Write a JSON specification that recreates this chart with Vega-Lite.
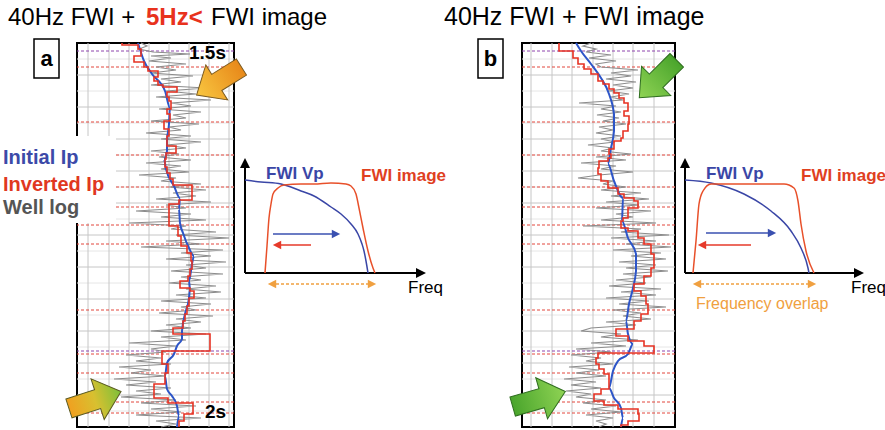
{
"$schema": "https://vega.github.io/schema/vega-lite/v6.json",
"background": "white",
"padding": 0,
"spacing": 0,
"bounds": "flush",
"config": {"view": {"stroke": null}, "font": "Liberation Sans"},
"datasets": {
"grayA": [{"s":0,"ip":64},{"s":3,"ip":70},{"s":6,"ip":62},{"s":9,"ip":76},{"s":11,"ip":113},{"s":13,"ip":74},{"s":15,"ip":94},{"s":18,"ip":72},{"s":21,"ip":109},{"s":24,"ip":79},{"s":27,"ip":99},{"s":30,"ip":74},{"s":33,"ip":116},{"s":36,"ip":84},{"s":39,"ip":104},{"s":42,"ip":74},{"s":45,"ip":129},{"s":48,"ip":89},{"s":51,"ip":119},{"s":54,"ip":79},{"s":57,"ip":134},{"s":60,"ip":94},{"s":63,"ip":114},{"s":66,"ip":82},{"s":69,"ip":124},{"s":72,"ip":96},{"s":75,"ip":109},{"s":78,"ip":74},{"s":81,"ip":122},{"s":84,"ip":92},{"s":87,"ip":104},{"s":90,"ip":69},{"s":93,"ip":114},{"s":96,"ip":84},{"s":99,"ip":124},{"s":102,"ip":89},{"s":105,"ip":109},{"s":108,"ip":74},{"s":111,"ip":102},{"s":114,"ip":82},{"s":117,"ip":114},{"s":120,"ip":69},{"s":123,"ip":104},{"s":126,"ip":84},{"s":129,"ip":112},{"s":132,"ip":62},{"s":135,"ip":99},{"s":138,"ip":84},{"s":141,"ip":124},{"s":144,"ip":92},{"s":147,"ip":129},{"s":150,"ip":96},{"s":153,"ip":119},{"s":156,"ip":79},{"s":159,"ip":134},{"s":162,"ip":89},{"s":165,"ip":109},{"s":168,"ip":59},{"s":171,"ip":114},{"s":174,"ip":84},{"s":177,"ip":129},{"s":180,"ip":52},{"s":183,"ip":109},{"s":186,"ip":94},{"s":189,"ip":139},{"s":192,"ip":99},{"s":195,"ip":152},{"s":198,"ip":89},{"s":201,"ip":124},{"s":204,"ip":64},{"s":207,"ip":146},{"s":210,"ip":104},{"s":213,"ip":134},{"s":216,"ip":89},{"s":219,"ip":149},{"s":222,"ip":109},{"s":225,"ip":129},{"s":228,"ip":94},{"s":231,"ip":146},{"s":234,"ip":104},{"s":237,"ip":124},{"s":240,"ip":92},{"s":243,"ip":139},{"s":246,"ip":109},{"s":249,"ip":144},{"s":252,"ip":99},{"s":255,"ip":129},{"s":258,"ip":84},{"s":261,"ip":134},{"s":264,"ip":104},{"s":267,"ip":119},{"s":270,"ip":82},{"s":273,"ip":136},{"s":276,"ip":99},{"s":279,"ip":124},{"s":282,"ip":89},{"s":285,"ip":114},{"s":288,"ip":74},{"s":291,"ip":129},{"s":294,"ip":84},{"s":297,"ip":109},{"s":300,"ip":52},{"s":303,"ip":99},{"s":306,"ip":74},{"s":309,"ip":89},{"s":312,"ip":49},{"s":315,"ip":84},{"s":318,"ip":59},{"s":321,"ip":94},{"s":324,"ip":42},{"s":327,"ip":74},{"s":330,"ip":54},{"s":333,"ip":89},{"s":336,"ip":37},{"s":339,"ip":79},{"s":342,"ip":49},{"s":345,"ip":94},{"s":348,"ip":59},{"s":351,"ip":84},{"s":354,"ip":44},{"s":357,"ip":99},{"s":360,"ip":64},{"s":363,"ip":119},{"s":366,"ip":74},{"s":369,"ip":104},{"s":372,"ip":59},{"s":375,"ip":124},{"s":378,"ip":79},{"s":381,"ip":99},{"s":384,"ip":84}],
"blueA": [{"s":0,"ip":61},{"s":18,"ip":67},{"s":31,"ip":75},{"s":48,"ip":88},{"s":65,"ip":93},{"s":81,"ip":92},{"s":98,"ip":90},{"s":108,"ip":90},{"s":116,"ip":87},{"s":126,"ip":89},{"s":143,"ip":97},{"s":155,"ip":103},{"s":166,"ip":102},{"s":180,"ip":103},{"s":190,"ip":106},{"s":205,"ip":112},{"s":213,"ip":117},{"s":221,"ip":115},{"s":238,"ip":112},{"s":246,"ip":113},{"s":255,"ip":112},{"s":271,"ip":108},{"s":288,"ip":105},{"s":296,"ip":105},{"s":303,"ip":100},{"s":311,"ip":97},{"s":320,"ip":90},{"s":333,"ip":88},{"s":346,"ip":90},{"s":353,"ip":95},{"s":363,"ip":100},{"s":373,"ip":102},{"s":384,"ip":100}],
"redA": [{"s":0,"ip":45},{"s":2,"ip":61},{"s":6,"ip":64},{"s":13,"ip":57},{"s":19,"ip":67},{"s":24,"ip":71},{"s":28,"ip":81},{"s":34,"ip":77},{"s":38,"ip":81},{"s":42,"ip":86},{"s":44,"ip":100},{"s":49,"ip":90},{"s":54,"ip":92},{"s":58,"ip":94},{"s":66,"ip":90},{"s":71,"ip":93},{"s":78,"ip":87},{"s":86,"ip":92},{"s":93,"ip":90},{"s":103,"ip":99},{"s":110,"ip":89},{"s":116,"ip":88},{"s":124,"ip":90},{"s":130,"ip":93},{"s":136,"ip":96},{"s":142,"ip":115},{"s":157,"ip":102},{"s":161,"ip":92},{"s":183,"ip":101},{"s":193,"ip":104},{"s":203,"ip":110},{"s":210,"ip":114},{"s":218,"ip":115},{"s":226,"ip":113},{"s":233,"ip":111},{"s":238,"ip":103},{"s":245,"ip":113},{"s":248,"ip":117},{"s":255,"ip":112},{"s":263,"ip":110},{"s":271,"ip":108},{"s":278,"ip":106},{"s":285,"ip":96},{"s":291,"ip":133},{"s":308,"ip":85},{"s":321,"ip":91},{"s":330,"ip":88},{"s":341,"ip":77},{"s":355,"ip":91},{"s":360,"ip":116},{"s":371,"ip":107},{"s":378,"ip":102},{"s":384,"ip":102}],
"grayB": [{"s":0,"ip":69},{"s":3,"ip":61},{"s":6,"ip":74},{"s":9,"ip":64},{"s":12,"ip":89},{"s":15,"ip":67},{"s":18,"ip":94},{"s":21,"ip":74},{"s":24,"ip":79},{"s":27,"ip":116},{"s":30,"ip":89},{"s":33,"ip":109},{"s":36,"ip":84},{"s":39,"ip":114},{"s":42,"ip":91},{"s":45,"ip":111},{"s":48,"ip":86},{"s":51,"ip":107},{"s":54,"ip":89},{"s":57,"ip":101},{"s":60,"ip":57},{"s":63,"ip":94},{"s":66,"ip":79},{"s":69,"ip":99},{"s":72,"ip":75},{"s":75,"ip":97},{"s":78,"ip":81},{"s":81,"ip":104},{"s":84,"ip":77},{"s":87,"ip":91},{"s":90,"ip":74},{"s":93,"ip":99},{"s":96,"ip":79},{"s":99,"ip":93},{"s":102,"ip":66},{"s":105,"ip":91},{"s":108,"ip":79},{"s":111,"ip":109},{"s":114,"ip":74},{"s":117,"ip":104},{"s":120,"ip":59},{"s":123,"ip":94},{"s":126,"ip":79},{"s":129,"ip":111},{"s":132,"ip":77},{"s":135,"ip":56},{"s":138,"ip":91},{"s":141,"ip":81},{"s":144,"ip":104},{"s":147,"ip":79},{"s":150,"ip":119},{"s":153,"ip":89},{"s":156,"ip":127},{"s":159,"ip":84},{"s":162,"ip":117},{"s":165,"ip":74},{"s":168,"ip":129},{"s":171,"ip":94},{"s":174,"ip":111},{"s":177,"ip":79},{"s":180,"ip":134},{"s":183,"ip":61},{"s":186,"ip":119},{"s":189,"ip":99},{"s":192,"ip":147},{"s":195,"ip":89},{"s":198,"ip":134},{"s":201,"ip":104},{"s":204,"ip":149},{"s":207,"ip":91},{"s":210,"ip":139},{"s":213,"ip":109},{"s":216,"ip":144},{"s":219,"ip":97},{"s":222,"ip":134},{"s":225,"ip":104},{"s":228,"ip":146},{"s":231,"ip":101},{"s":234,"ip":129},{"s":237,"ip":94},{"s":240,"ip":124},{"s":243,"ip":87},{"s":246,"ip":139},{"s":249,"ip":99},{"s":252,"ip":134},{"s":255,"ip":84},{"s":258,"ip":127},{"s":261,"ip":97},{"s":264,"ip":144},{"s":267,"ip":91},{"s":270,"ip":119},{"s":273,"ip":101},{"s":276,"ip":129},{"s":279,"ip":84},{"s":282,"ip":114},{"s":285,"ip":69},{"s":288,"ip":59},{"s":291,"ip":99},{"s":294,"ip":79},{"s":297,"ip":116},{"s":300,"ip":69},{"s":303,"ip":104},{"s":306,"ip":54},{"s":309,"ip":89},{"s":312,"ip":49},{"s":315,"ip":79},{"s":318,"ip":64},{"s":321,"ip":91},{"s":324,"ip":47},{"s":327,"ip":77},{"s":330,"ip":54},{"s":333,"ip":84},{"s":336,"ip":42},{"s":339,"ip":74},{"s":342,"ip":49},{"s":345,"ip":79},{"s":348,"ip":44},{"s":351,"ip":69},{"s":354,"ip":54},{"s":357,"ip":84},{"s":360,"ip":61},{"s":363,"ip":94},{"s":366,"ip":69},{"s":369,"ip":99},{"s":372,"ip":64},{"s":375,"ip":91},{"s":378,"ip":74},{"s":381,"ip":84},{"s":384,"ip":77}],
"blueB": [{"s":0,"ip":54},{"s":8,"ip":59},{"s":21,"ip":69},{"s":35,"ip":79},{"s":51,"ip":87},{"s":71,"ip":92},{"s":88,"ip":92},{"s":105,"ip":89},{"s":121,"ip":86},{"s":138,"ip":92},{"s":155,"ip":101},{"s":178,"ip":100},{"s":195,"ip":106},{"s":211,"ip":114},{"s":228,"ip":114},{"s":245,"ip":111},{"s":261,"ip":107},{"s":278,"ip":104},{"s":291,"ip":106},{"s":301,"ip":111},{"s":311,"ip":106},{"s":318,"ip":96},{"s":328,"ip":91},{"s":345,"ip":87},{"s":355,"ip":92},{"s":365,"ip":99},{"s":375,"ip":101},{"s":384,"ip":99}],
"redB": [{"s":0,"ip":37},{"s":8,"ip":51},{"s":15,"ip":56},{"s":21,"ip":62},{"s":26,"ip":69},{"s":31,"ip":76},{"s":38,"ip":81},{"s":41,"ip":87},{"s":46,"ip":92},{"s":50,"ip":97},{"s":55,"ip":102},{"s":60,"ip":106},{"s":68,"ip":102},{"s":73,"ip":107},{"s":81,"ip":106},{"s":88,"ip":101},{"s":95,"ip":99},{"s":98,"ip":92},{"s":106,"ip":87},{"s":111,"ip":89},{"s":115,"ip":86},{"s":118,"ip":77},{"s":125,"ip":76},{"s":131,"ip":79},{"s":138,"ip":86},{"s":145,"ip":96},{"s":151,"ip":102},{"s":155,"ip":112},{"s":158,"ip":116},{"s":165,"ip":106},{"s":175,"ip":101},{"s":178,"ip":99},{"s":185,"ip":106},{"s":188,"ip":116},{"s":195,"ip":122},{"s":201,"ip":129},{"s":211,"ip":132},{"s":225,"ip":129},{"s":233,"ip":122},{"s":241,"ip":112},{"s":248,"ip":119},{"s":253,"ip":124},{"s":261,"ip":126},{"s":271,"ip":119},{"s":278,"ip":112},{"s":286,"ip":94},{"s":293,"ip":106},{"s":298,"ip":122},{"s":303,"ip":132},{"s":310,"ip":76},{"s":315,"ip":74},{"s":321,"ip":77},{"s":326,"ip":82},{"s":331,"ip":87},{"s":346,"ip":79},{"s":351,"ip":72},{"s":358,"ip":82},{"s":362,"ip":96},{"s":366,"ip":116},{"s":371,"ip":117},{"s":378,"ip":106},{"s":382,"ip":99},{"s":384,"ip":99}],
"specBlueA": [{"f":0,"a":93},{"f":16,"a":91},{"f":36,"a":89},{"f":56,"a":82},{"f":69,"a":77},{"f":86,"a":66},{"f":96,"a":59},{"f":106,"a":49},{"f":113,"a":39},{"f":117,"a":29},{"f":119,"a":22},{"f":121,"a":12},{"f":123,"a":0}],
"specRedA": [{"f":20,"a":0},{"f":22,"a":27},{"f":24,"a":55},{"f":26,"a":69},{"f":28,"a":79},{"f":33,"a":85},{"f":39,"a":88},{"f":56,"a":89},{"f":69,"a":89},{"f":86,"a":90},{"f":101,"a":89},{"f":106,"a":87},{"f":111,"a":79},{"f":114,"a":65},{"f":118,"a":45},{"f":123,"a":22},{"f":128,"a":5},{"f":130,"a":0}],
"specBlueB": [{"f":0,"a":93},{"f":26,"a":90},{"f":59,"a":79},{"f":86,"a":62},{"f":106,"a":42},{"f":116,"a":25},{"f":123,"a":5},{"f":124,"a":0}],
"specRedB": [{"f":8,"a":0},{"f":11,"a":32},{"f":14,"a":69},{"f":18,"a":82},{"f":26,"a":89},{"f":59,"a":89},{"f":76,"a":89},{"f":99,"a":89},{"f":109,"a":85},{"f":113,"a":72},{"f":116,"a":49},{"f":121,"a":22},{"f":129,"a":0}]
},
"hconcat": [
{
"width": 157, "height": 384,
"view": {"stroke": "black", "strokeWidth": 2},
"layer": [
{"data": {"values": [{"ip1": -76, "ip2": -70, "s1": -42, "s2": -41}]},
 "mark": {"type": "rect", "color": "white"},
 "encoding": {"x": {"field": "ip1", "type": "quantitative", "scale": {"domain": [0, 157], "nice": false, "zero": false}, "axis": null}, "x2": {"field": "ip2"},
  "y": {"field": "s1", "type": "quantitative", "scale": {"domain": [0, 384], "reverse": true, "nice": false, "zero": false}, "axis": null}, "y2": {"field": "s2"}}},
{"data": {"values": [{"s":16},{"s":48},{"s":80},{"s":112},{"s":144},{"s":176},{"s":208},{"s":240},{"s":272},{"s":304},{"s":336},{"s":368}]},
 "mark": {"type": "rule", "color": "#e6e6e6", "strokeWidth": 1},
 "encoding": {"y": {"field": "s", "type": "quantitative", "scale": {"domain": [0, 384], "reverse": true, "nice": false, "zero": false}, "axis": null}}},
{"data": {"values": [{"s":32},{"s":64},{"s":96},{"s":128},{"s":160},{"s":192},{"s":224},{"s":256},{"s":288},{"s":320},{"s":352}]},
 "mark": {"type": "rule", "color": "#c6c6c6", "strokeWidth": 1},
 "encoding": {"y": {"field": "s", "type": "quantitative", "scale": {"domain": [0, 384], "reverse": true, "nice": false, "zero": false}, "axis": null}}},
{"data": {"values": [{"ip":11},{"ip":32},{"ip":52},{"ip":72},{"ip":92},{"ip":112},{"ip":132},{"ip":152}]},
 "mark": {"type": "rule", "color": "#c6c6c6", "strokeWidth": 1},
 "encoding": {"x": {"field": "ip", "type": "quantitative", "scale": {"domain": [0, 157], "nice": false, "zero": false}, "axis": null}}},
{"data": {"values": [{"s":24},{"s":79},{"s":112},{"s":144},{"s":164},{"s":182},{"s":201},{"s":267},{"s":311},{"s":330},{"s":359},{"s":370}]},
 "mark": {"type": "rule", "color": "#e2463c", "strokeWidth": 1, "strokeDash": [3, 2]},
 "encoding": {"y": {"field": "s", "type": "quantitative", "scale": {"domain": [0, 384], "reverse": true, "nice": false, "zero": false}, "axis": null}}},
{"data": {"values": [{"s":8},{"s":308}]},
 "mark": {"type": "rule", "color": "#8e44ad", "strokeWidth": 1, "strokeDash": [3, 2]},
 "encoding": {"y": {"field": "s", "type": "quantitative", "scale": {"domain": [0, 384], "reverse": true, "nice": false, "zero": false}, "axis": null}}},
{"data": {"values": [{"ip1": -76, "ip2": 39, "s1": 93, "s2": 180}]},
 "mark": {"type": "rect", "color": "white"},
 "encoding": {"x": {"field": "ip1", "type": "quantitative", "scale": {"domain": [0, 157], "nice": false, "zero": false}, "axis": null}, "x2": {"field": "ip2"},
  "y": {"field": "s1", "type": "quantitative", "scale": {"domain": [0, 384], "reverse": true, "nice": false, "zero": false}, "axis": null}, "y2": {"field": "s2"}}},
{"data": {"name": "grayA"},
 "mark": {"type": "line", "color": "#8c8c8c", "strokeWidth": 1.2},
 "encoding": {"x": {"field": "ip", "type": "quantitative", "scale": {"domain": [0, 157], "nice": false, "zero": false}, "axis": null},
  "y": {"field": "s", "type": "quantitative", "scale": {"domain": [0, 384], "reverse": true, "nice": false, "zero": false}, "axis": null},
  "order": {"field": "s", "type": "quantitative"}}},
{"data": {"name": "blueA"},
 "mark": {"type": "line", "color": "#2d55c8", "strokeWidth": 2, "interpolate": "monotone"},
 "encoding": {"x": {"field": "ip", "type": "quantitative", "scale": {"domain": [0, 157], "nice": false, "zero": false}, "axis": null},
  "y": {"field": "s", "type": "quantitative", "scale": {"domain": [0, 384], "reverse": true, "nice": false, "zero": false}, "axis": null},
  "order": {"field": "s", "type": "quantitative"}}},
{"data": {"name": "redA"},
 "mark": {"type": "line", "color": "#e63223", "strokeWidth": 1.6, "interpolate": "step-before"},
 "encoding": {"x": {"field": "ip", "type": "quantitative", "scale": {"domain": [0, 157], "nice": false, "zero": false}, "axis": null},
  "y": {"field": "s", "type": "quantitative", "scale": {"domain": [0, 384], "reverse": true, "nice": false, "zero": false}, "axis": null},
  "order": {"field": "s", "type": "quantitative"}}},
{"data": {"values": [{"ip": 142, "s": 38}]},
 "mark": {"type": "point", "shape": "M -1 -0.36 L 0.1 -0.36 L 0.1 -0.78 L 1 0 L 0.1 0.78 L 0.1 0.36 L -1 0.36 Z", "filled": true, "opacity": 1, "size": 2800, "angle": 148, "stroke": "#7a5a20", "strokeWidth": 1,
  "fill": {"gradient": "linear", "x1": 0, "y1": 0, "x2": 1, "y2": 0, "stops": [{"offset": 0, "color": "#e8891a"}, {"offset": 1, "color": "#f8c640"}]}},
 "encoding": {"x": {"field": "ip", "type": "quantitative", "scale": {"domain": [0, 157], "nice": false, "zero": false}, "axis": null},
  "y": {"field": "s", "type": "quantitative", "scale": {"domain": [0, 384], "reverse": true, "nice": false, "zero": false}, "axis": null}}},
{"data": {"values": [{"ip": 18, "s": 357}]},
 "mark": {"type": "point", "shape": "M -1 -0.36 L 0.1 -0.36 L 0.1 -0.78 L 1 0 L 0.1 0.78 L 0.1 0.36 L -1 0.36 Z", "filled": true, "opacity": 1, "size": 3000, "angle": -18, "stroke": "#5a5a20", "strokeWidth": 1,
  "fill": {"gradient": "linear", "x1": 0, "y1": 0, "x2": 1, "y2": 0, "stops": [{"offset": 0, "color": "#f0a020"}, {"offset": 0.5, "color": "#d8c030"}, {"offset": 1, "color": "#7cc03a"}]}},
 "encoding": {"x": {"field": "ip", "type": "quantitative", "scale": {"domain": [0, 157], "nice": false, "zero": false}, "axis": null},
  "y": {"field": "s", "type": "quantitative", "scale": {"domain": [0, 384], "reverse": true, "nice": false, "zero": false}, "axis": null}}},
{"data": {"values": [{"label": "1.5s", "ip": 112, "s": 16}, {"label": "2s", "ip": 128, "s": 375}]},
 "mark": {"type": "text", "align": "left", "baseline": "alphabetic", "fontSize": 19, "fontWeight": "bold", "color": "black"},
 "encoding": {"x": {"field": "ip", "type": "quantitative", "scale": {"domain": [0, 157], "nice": false, "zero": false}, "axis": null},
  "y": {"field": "s", "type": "quantitative", "scale": {"domain": [0, 384], "reverse": true, "nice": false, "zero": false}, "axis": null},
  "text": {"field": "label"}}},
{"data": {"values": [{"label": "Initial Ip", "ip": -74, "s": 121}, {"label": "Inverted Ip", "ip": -74, "s": 148}, {"label": "Well log", "ip": -74, "s": 171}]},
 "mark": {"type": "text", "align": "left", "baseline": "alphabetic", "fontSize": 20, "fontWeight": "bold"},
 "encoding": {"x": {"field": "ip", "type": "quantitative", "scale": {"domain": [0, 157], "nice": false, "zero": false}, "axis": null},
  "y": {"field": "s", "type": "quantitative", "scale": {"domain": [0, 384], "reverse": true, "nice": false, "zero": false}, "axis": null},
  "text": {"field": "label"},
  "color": {"field": "label", "type": "nominal", "scale": {"domain": ["Initial Ip", "Inverted Ip", "Well log"], "range": ["#3c4aa8", "#e0381f", "#555555"]}, "legend": null}}},
{"data": {"values": [{"ip1": -43, "ip2": -18, "s1": -4, "s2": 35}]},
 "mark": {"type": "rect", "fill": "white", "stroke": "black", "strokeWidth": 1.5},
 "encoding": {"x": {"field": "ip1", "type": "quantitative", "scale": {"domain": [0, 157], "nice": false, "zero": false}, "axis": null}, "x2": {"field": "ip2"},
  "y": {"field": "s1", "type": "quantitative", "scale": {"domain": [0, 384], "reverse": true, "nice": false, "zero": false}, "axis": null}, "y2": {"field": "s2"}}},
{"data": {"values": [{"label": "a", "ip": -30.5, "s": 16}]},
 "mark": {"type": "text", "align": "center", "baseline": "middle", "fontSize": 22, "fontWeight": "bold", "color": "black"},
 "encoding": {"x": {"field": "ip", "type": "quantitative", "scale": {"domain": [0, 157], "nice": false, "zero": false}, "axis": null},
  "y": {"field": "s", "type": "quantitative", "scale": {"domain": [0, 384], "reverse": true, "nice": false, "zero": false}, "axis": null},
  "text": {"field": "label"}}},
{"data": {"values": [{"label": "40Hz FWI +", "ip": -69, "s": -18}, {"label": "FWI image", "ip": 134, "s": -18}]},
 "mark": {"type": "text", "align": "left", "baseline": "alphabetic", "fontSize": 24, "color": "black"},
 "encoding": {"x": {"field": "ip", "type": "quantitative", "scale": {"domain": [0, 157], "nice": false, "zero": false}, "axis": null},
  "y": {"field": "s", "type": "quantitative", "scale": {"domain": [0, 384], "reverse": true, "nice": false, "zero": false}, "axis": null},
  "text": {"field": "label"}}},
{"data": {"values": [{"label": "5Hz<", "ip": 69, "s": -18}]},
 "mark": {"type": "text", "align": "left", "baseline": "alphabetic", "fontSize": 24, "fontWeight": "bold", "color": "#e8321d"},
 "encoding": {"x": {"field": "ip", "type": "quantitative", "scale": {"domain": [0, 157], "nice": false, "zero": false}, "axis": null},
  "y": {"field": "s", "type": "quantitative", "scale": {"domain": [0, 384], "reverse": true, "nice": false, "zero": false}, "axis": null},
  "text": {"field": "label"}}}
]
},
{
"width": 288, "height": 384,
"layer": [
{"data": {"values": [{"f": 0, "a": 0, "a2": 110}]},
 "mark": {"type": "rule", "color": "black", "strokeWidth": 2},
 "encoding": {"x": {"field": "f", "type": "quantitative", "scale": {"domain": [-11, 277], "nice": false, "zero": false}, "axis": null},
  "y": {"field": "a", "type": "quantitative", "scale": {"domain": [-154, 230], "nice": false, "zero": false}, "axis": null}, "y2": {"field": "a2"}}},
{"data": {"values": [{"f": 0, "f2": 176, "a": 0}]},
 "mark": {"type": "rule", "color": "black", "strokeWidth": 2},
 "encoding": {"x": {"field": "f", "type": "quantitative", "scale": {"domain": [-11, 277], "nice": false, "zero": false}, "axis": null}, "x2": {"field": "f2"},
  "y": {"field": "a", "type": "quantitative", "scale": {"domain": [-154, 230], "nice": false, "zero": false}, "axis": null}}},
{"data": {"values": [{"f": 0, "a": 110}]},
 "mark": {"type": "point", "shape": "M -1 1 L 0 -1 L 1 1 Z", "filled": true, "opacity": 1, "size": 100, "color": "black"},
 "encoding": {"x": {"field": "f", "type": "quantitative", "scale": {"domain": [-11, 277], "nice": false, "zero": false}, "axis": null},
  "y": {"field": "a", "type": "quantitative", "scale": {"domain": [-154, 230], "nice": false, "zero": false}, "axis": null}}},
{"data": {"values": [{"f": 176, "a": 0}]},
 "mark": {"type": "point", "shape": "M -1 -1 L 1 0 L -1 1 Z", "filled": true, "opacity": 1, "size": 100, "color": "black"},
 "encoding": {"x": {"field": "f", "type": "quantitative", "scale": {"domain": [-11, 277], "nice": false, "zero": false}, "axis": null},
  "y": {"field": "a", "type": "quantitative", "scale": {"domain": [-154, 230], "nice": false, "zero": false}, "axis": null}}},
{"data": {"name": "specBlueA"},
 "mark": {"type": "line", "color": "#3a46a6", "strokeWidth": 1.5, "interpolate": "monotone"},
 "encoding": {"x": {"field": "f", "type": "quantitative", "scale": {"domain": [-11, 277], "nice": false, "zero": false}, "axis": null},
  "y": {"field": "a", "type": "quantitative", "scale": {"domain": [-154, 230], "nice": false, "zero": false}, "axis": null}}},
{"data": {"name": "specRedA"},
 "mark": {"type": "line", "color": "#e8502a", "strokeWidth": 1.5, "interpolate": "monotone"},
 "encoding": {"x": {"field": "f", "type": "quantitative", "scale": {"domain": [-11, 277], "nice": false, "zero": false}, "axis": null},
  "y": {"field": "a", "type": "quantitative", "scale": {"domain": [-154, 230], "nice": false, "zero": false}, "axis": null}}},
{"data": {"values": [{"f": 28, "f2": 90, "a": 39}]},
 "mark": {"type": "rule", "color": "#3a50b0", "strokeWidth": 1.5},
 "encoding": {"x": {"field": "f", "type": "quantitative", "scale": {"domain": [-11, 277], "nice": false, "zero": false}, "axis": null}, "x2": {"field": "f2"},
  "y": {"field": "a", "type": "quantitative", "scale": {"domain": [-154, 230], "nice": false, "zero": false}, "axis": null}}},
{"data": {"values": [{"f": 91, "a": 39}]},
 "mark": {"type": "point", "shape": "M -1 -1 L 1 0 L -1 1 Z", "filled": true, "opacity": 1, "size": 70, "color": "#3a50b0"},
 "encoding": {"x": {"field": "f", "type": "quantitative", "scale": {"domain": [-11, 277], "nice": false, "zero": false}, "axis": null},
  "y": {"field": "a", "type": "quantitative", "scale": {"domain": [-154, 230], "nice": false, "zero": false}, "axis": null}}},
{"data": {"values": [{"f": 33, "f2": 66, "a": 28}]},
 "mark": {"type": "rule", "color": "#e63a2a", "strokeWidth": 1.5},
 "encoding": {"x": {"field": "f", "type": "quantitative", "scale": {"domain": [-11, 277], "nice": false, "zero": false}, "axis": null}, "x2": {"field": "f2"},
  "y": {"field": "a", "type": "quantitative", "scale": {"domain": [-154, 230], "nice": false, "zero": false}, "axis": null}}},
{"data": {"values": [{"f": 32, "a": 28}]},
 "mark": {"type": "point", "shape": "M 1 -1 L -1 0 L 1 1 Z", "filled": true, "opacity": 1, "size": 70, "color": "#e63a2a"},
 "encoding": {"x": {"field": "f", "type": "quantitative", "scale": {"domain": [-11, 277], "nice": false, "zero": false}, "axis": null},
  "y": {"field": "a", "type": "quantitative", "scale": {"domain": [-154, 230], "nice": false, "zero": false}, "axis": null}}},
{"data": {"values": [{"f": 26, "f2": 128, "a": -11}]},
 "mark": {"type": "rule", "color": "#f0a040", "strokeWidth": 1.5, "strokeDash": [3, 2]},
 "encoding": {"x": {"field": "f", "type": "quantitative", "scale": {"domain": [-11, 277], "nice": false, "zero": false}, "axis": null}, "x2": {"field": "f2"},
  "y": {"field": "a", "type": "quantitative", "scale": {"domain": [-154, 230], "nice": false, "zero": false}, "axis": null}}},
{"data": {"values": [{"f": 27, "a": -11}]},
 "mark": {"type": "point", "shape": "M 1 -1 L -1 0 L 1 1 Z", "filled": true, "opacity": 1, "size": 70, "color": "#f0a040"},
 "encoding": {"x": {"field": "f", "type": "quantitative", "scale": {"domain": [-11, 277], "nice": false, "zero": false}, "axis": null},
  "y": {"field": "a", "type": "quantitative", "scale": {"domain": [-154, 230], "nice": false, "zero": false}, "axis": null}}},
{"data": {"values": [{"f": 127, "a": -11}]},
 "mark": {"type": "point", "shape": "M -1 -1 L 1 0 L -1 1 Z", "filled": true, "opacity": 1, "size": 70, "color": "#f0a040"},
 "encoding": {"x": {"field": "f", "type": "quantitative", "scale": {"domain": [-11, 277], "nice": false, "zero": false}, "axis": null},
  "y": {"field": "a", "type": "quantitative", "scale": {"domain": [-154, 230], "nice": false, "zero": false}, "axis": null}}},
{"data": {"values": [{"label": "FWI Vp", "f": 21, "a": 94}]},
 "mark": {"type": "text", "align": "left", "baseline": "alphabetic", "fontSize": 17, "fontWeight": "bold", "color": "#3a46a6"},
 "encoding": {"x": {"field": "f", "type": "quantitative", "scale": {"domain": [-11, 277], "nice": false, "zero": false}, "axis": null},
  "y": {"field": "a", "type": "quantitative", "scale": {"domain": [-154, 230], "nice": false, "zero": false}, "axis": null}, "text": {"field": "label"}}},
{"data": {"values": [{"label": "FWI image", "f": 116, "a": 92}]},
 "mark": {"type": "text", "align": "left", "baseline": "alphabetic", "fontSize": 17, "fontWeight": "bold", "color": "#e0401f"},
 "encoding": {"x": {"field": "f", "type": "quantitative", "scale": {"domain": [-11, 277], "nice": false, "zero": false}, "axis": null},
  "y": {"field": "a", "type": "quantitative", "scale": {"domain": [-154, 230], "nice": false, "zero": false}, "axis": null}, "text": {"field": "label"}}},
{"data": {"values": [{"label": "Freq", "f": 163, "a": -20}]},
 "mark": {"type": "text", "align": "left", "baseline": "alphabetic", "fontSize": 17, "color": "black"},
 "encoding": {"x": {"field": "f", "type": "quantitative", "scale": {"domain": [-11, 277], "nice": false, "zero": false}, "axis": null},
  "y": {"field": "a", "type": "quantitative", "scale": {"domain": [-154, 230], "nice": false, "zero": false}, "axis": null}, "text": {"field": "label"}}}
]
},
{
"width": 153, "height": 384,
"view": {"stroke": "black", "strokeWidth": 2},
"layer": [
{"data": {"values": [{"s":16},{"s":48},{"s":80},{"s":112},{"s":144},{"s":176},{"s":208},{"s":240},{"s":272},{"s":304},{"s":336},{"s":368}]},
 "mark": {"type": "rule", "color": "#e6e6e6", "strokeWidth": 1},
 "encoding": {"y": {"field": "s", "type": "quantitative", "scale": {"domain": [0, 384], "reverse": true, "nice": false, "zero": false}, "axis": null}}},
{"data": {"values": [{"s":32},{"s":64},{"s":96},{"s":128},{"s":160},{"s":192},{"s":224},{"s":256},{"s":288},{"s":320},{"s":352}]},
 "mark": {"type": "rule", "color": "#c6c6c6", "strokeWidth": 1},
 "encoding": {"y": {"field": "s", "type": "quantitative", "scale": {"domain": [0, 384], "reverse": true, "nice": false, "zero": false}, "axis": null}}},
{"data": {"values": [{"ip":9},{"ip":30},{"ip":50},{"ip":71},{"ip":91},{"ip":111},{"ip":132}]},
 "mark": {"type": "rule", "color": "#c6c6c6", "strokeWidth": 1},
 "encoding": {"x": {"field": "ip", "type": "quantitative", "scale": {"domain": [0, 153], "nice": false, "zero": false}, "axis": null}}},
{"data": {"values": [{"s":24},{"s":79},{"s":112},{"s":144},{"s":164},{"s":182},{"s":201},{"s":267},{"s":311},{"s":330},{"s":359},{"s":370}]},
 "mark": {"type": "rule", "color": "#e2463c", "strokeWidth": 1, "strokeDash": [3, 2]},
 "encoding": {"y": {"field": "s", "type": "quantitative", "scale": {"domain": [0, 384], "reverse": true, "nice": false, "zero": false}, "axis": null}}},
{"data": {"values": [{"s":8},{"s":308}]},
 "mark": {"type": "rule", "color": "#8e44ad", "strokeWidth": 1, "strokeDash": [3, 2]},
 "encoding": {"y": {"field": "s", "type": "quantitative", "scale": {"domain": [0, 384], "reverse": true, "nice": false, "zero": false}, "axis": null}}},
{"data": {"name": "grayB"},
 "mark": {"type": "line", "color": "#8c8c8c", "strokeWidth": 1.2},
 "encoding": {"x": {"field": "ip", "type": "quantitative", "scale": {"domain": [0, 153], "nice": false, "zero": false}, "axis": null},
  "y": {"field": "s", "type": "quantitative", "scale": {"domain": [0, 384], "reverse": true, "nice": false, "zero": false}, "axis": null},
  "order": {"field": "s", "type": "quantitative"}}},
{"data": {"name": "blueB"},
 "mark": {"type": "line", "color": "#2d55c8", "strokeWidth": 2, "interpolate": "monotone"},
 "encoding": {"x": {"field": "ip", "type": "quantitative", "scale": {"domain": [0, 153], "nice": false, "zero": false}, "axis": null},
  "y": {"field": "s", "type": "quantitative", "scale": {"domain": [0, 384], "reverse": true, "nice": false, "zero": false}, "axis": null},
  "order": {"field": "s", "type": "quantitative"}}},
{"data": {"name": "redB"},
 "mark": {"type": "line", "color": "#e63223", "strokeWidth": 1.6, "interpolate": "step-before"},
 "encoding": {"x": {"field": "ip", "type": "quantitative", "scale": {"domain": [0, 153], "nice": false, "zero": false}, "axis": null},
  "y": {"field": "s", "type": "quantitative", "scale": {"domain": [0, 384], "reverse": true, "nice": false, "zero": false}, "axis": null},
  "order": {"field": "s", "type": "quantitative"}}},
{"data": {"values": [{"ip": 136, "s": 36}]},
 "mark": {"type": "point", "shape": "M -1 -0.36 L 0.1 -0.36 L 0.1 -0.78 L 1 0 L 0.1 0.78 L 0.1 0.36 L -1 0.36 Z", "filled": true, "opacity": 1, "size": 2800, "angle": 135, "stroke": "#2f6e1f", "strokeWidth": 1,
  "fill": {"gradient": "linear", "x1": 0, "y1": 0, "x2": 1, "y2": 0, "stops": [{"offset": 0, "color": "#4aa52c"}, {"offset": 1, "color": "#8fd354"}]}},
 "encoding": {"x": {"field": "ip", "type": "quantitative", "scale": {"domain": [0, 153], "nice": false, "zero": false}, "axis": null},
  "y": {"field": "s", "type": "quantitative", "scale": {"domain": [0, 384], "reverse": true, "nice": false, "zero": false}, "axis": null}}},
{"data": {"values": [{"ip": 17, "s": 356}]},
 "mark": {"type": "point", "shape": "M -1 -0.36 L 0.1 -0.36 L 0.1 -0.78 L 1 0 L 0.1 0.78 L 0.1 0.36 L -1 0.36 Z", "filled": true, "opacity": 1, "size": 3000, "angle": -16, "stroke": "#2f6e1f", "strokeWidth": 1,
  "fill": {"gradient": "linear", "x1": 0, "y1": 0, "x2": 1, "y2": 0, "stops": [{"offset": 0, "color": "#4aa52c"}, {"offset": 1, "color": "#8fd354"}]}},
 "encoding": {"x": {"field": "ip", "type": "quantitative", "scale": {"domain": [0, 153], "nice": false, "zero": false}, "axis": null},
  "y": {"field": "s", "type": "quantitative", "scale": {"domain": [0, 384], "reverse": true, "nice": false, "zero": false}, "axis": null}}},
{"data": {"values": [{"ip1": -44, "ip2": -19, "s1": -4, "s2": 35}]},
 "mark": {"type": "rect", "fill": "white", "stroke": "black", "strokeWidth": 1.5},
 "encoding": {"x": {"field": "ip1", "type": "quantitative", "scale": {"domain": [0, 153], "nice": false, "zero": false}, "axis": null}, "x2": {"field": "ip2"},
  "y": {"field": "s1", "type": "quantitative", "scale": {"domain": [0, 384], "reverse": true, "nice": false, "zero": false}, "axis": null}, "y2": {"field": "s2"}}},
{"data": {"values": [{"label": "b", "ip": -31.5, "s": 16}]},
 "mark": {"type": "text", "align": "center", "baseline": "middle", "fontSize": 22, "fontWeight": "bold", "color": "black"},
 "encoding": {"x": {"field": "ip", "type": "quantitative", "scale": {"domain": [0, 153], "nice": false, "zero": false}, "axis": null},
  "y": {"field": "s", "type": "quantitative", "scale": {"domain": [0, 384], "reverse": true, "nice": false, "zero": false}, "axis": null},
  "text": {"field": "label"}}},
{"data": {"values": [{"label": "40Hz FWI + FWI image", "ip": -78, "s": -18}]},
 "mark": {"type": "text", "align": "left", "baseline": "alphabetic", "fontSize": 25, "color": "black"},
 "encoding": {"x": {"field": "ip", "type": "quantitative", "scale": {"domain": [0, 153], "nice": false, "zero": false}, "axis": null},
  "y": {"field": "s", "type": "quantitative", "scale": {"domain": [0, 384], "reverse": true, "nice": false, "zero": false}, "axis": null},
  "text": {"field": "label"}}}
]
},
{
"width": 211, "height": 384,
"layer": [
{"data": {"values": [{"f": 0, "a": 0, "a2": 110}]},
 "mark": {"type": "rule", "color": "black", "strokeWidth": 2},
 "encoding": {"x": {"field": "f", "type": "quantitative", "scale": {"domain": [-10, 201], "nice": false, "zero": false}, "axis": null},
  "y": {"field": "a", "type": "quantitative", "scale": {"domain": [-154, 230], "nice": false, "zero": false}, "axis": null}, "y2": {"field": "a2"}}},
{"data": {"values": [{"f": 0, "f2": 174, "a": 0}]},
 "mark": {"type": "rule", "color": "black", "strokeWidth": 2},
 "encoding": {"x": {"field": "f", "type": "quantitative", "scale": {"domain": [-10, 201], "nice": false, "zero": false}, "axis": null}, "x2": {"field": "f2"},
  "y": {"field": "a", "type": "quantitative", "scale": {"domain": [-154, 230], "nice": false, "zero": false}, "axis": null}}},
{"data": {"values": [{"f": 0, "a": 110}]},
 "mark": {"type": "point", "shape": "M -1 1 L 0 -1 L 1 1 Z", "filled": true, "opacity": 1, "size": 100, "color": "black"},
 "encoding": {"x": {"field": "f", "type": "quantitative", "scale": {"domain": [-10, 201], "nice": false, "zero": false}, "axis": null},
  "y": {"field": "a", "type": "quantitative", "scale": {"domain": [-154, 230], "nice": false, "zero": false}, "axis": null}}},
{"data": {"values": [{"f": 174, "a": 0}]},
 "mark": {"type": "point", "shape": "M -1 -1 L 1 0 L -1 1 Z", "filled": true, "opacity": 1, "size": 100, "color": "black"},
 "encoding": {"x": {"field": "f", "type": "quantitative", "scale": {"domain": [-10, 201], "nice": false, "zero": false}, "axis": null},
  "y": {"field": "a", "type": "quantitative", "scale": {"domain": [-154, 230], "nice": false, "zero": false}, "axis": null}}},
{"data": {"name": "specBlueB"},
 "mark": {"type": "line", "color": "#3a46a6", "strokeWidth": 1.5, "interpolate": "monotone"},
 "encoding": {"x": {"field": "f", "type": "quantitative", "scale": {"domain": [-10, 201], "nice": false, "zero": false}, "axis": null},
  "y": {"field": "a", "type": "quantitative", "scale": {"domain": [-154, 230], "nice": false, "zero": false}, "axis": null}}},
{"data": {"name": "specRedB"},
 "mark": {"type": "line", "color": "#e8502a", "strokeWidth": 1.5, "interpolate": "monotone"},
 "encoding": {"x": {"field": "f", "type": "quantitative", "scale": {"domain": [-10, 201], "nice": false, "zero": false}, "axis": null},
  "y": {"field": "a", "type": "quantitative", "scale": {"domain": [-154, 230], "nice": false, "zero": false}, "axis": null}}},
{"data": {"values": [{"f": 21, "f2": 86, "a": 40}]},
 "mark": {"type": "rule", "color": "#3a50b0", "strokeWidth": 1.5},
 "encoding": {"x": {"field": "f", "type": "quantitative", "scale": {"domain": [-10, 201], "nice": false, "zero": false}, "axis": null}, "x2": {"field": "f2"},
  "y": {"field": "a", "type": "quantitative", "scale": {"domain": [-154, 230], "nice": false, "zero": false}, "axis": null}}},
{"data": {"values": [{"f": 87, "a": 40}]},
 "mark": {"type": "point", "shape": "M -1 -1 L 1 0 L -1 1 Z", "filled": true, "opacity": 1, "size": 70, "color": "#3a50b0"},
 "encoding": {"x": {"field": "f", "type": "quantitative", "scale": {"domain": [-10, 201], "nice": false, "zero": false}, "axis": null},
  "y": {"field": "a", "type": "quantitative", "scale": {"domain": [-154, 230], "nice": false, "zero": false}, "axis": null}}},
{"data": {"values": [{"f": 18, "f2": 66, "a": 28}]},
 "mark": {"type": "rule", "color": "#e63a2a", "strokeWidth": 1.5},
 "encoding": {"x": {"field": "f", "type": "quantitative", "scale": {"domain": [-10, 201], "nice": false, "zero": false}, "axis": null}, "x2": {"field": "f2"},
  "y": {"field": "a", "type": "quantitative", "scale": {"domain": [-154, 230], "nice": false, "zero": false}, "axis": null}}},
{"data": {"values": [{"f": 17, "a": 28}]},
 "mark": {"type": "point", "shape": "M 1 -1 L -1 0 L 1 1 Z", "filled": true, "opacity": 1, "size": 70, "color": "#e63a2a"},
 "encoding": {"x": {"field": "f", "type": "quantitative", "scale": {"domain": [-10, 201], "nice": false, "zero": false}, "axis": null},
  "y": {"field": "a", "type": "quantitative", "scale": {"domain": [-154, 230], "nice": false, "zero": false}, "axis": null}}},
{"data": {"values": [{"f": 11, "f2": 128, "a": -11}]},
 "mark": {"type": "rule", "color": "#f0a040", "strokeWidth": 1.5, "strokeDash": [3, 2]},
 "encoding": {"x": {"field": "f", "type": "quantitative", "scale": {"domain": [-10, 201], "nice": false, "zero": false}, "axis": null}, "x2": {"field": "f2"},
  "y": {"field": "a", "type": "quantitative", "scale": {"domain": [-154, 230], "nice": false, "zero": false}, "axis": null}}},
{"data": {"values": [{"f": 12, "a": -11}]},
 "mark": {"type": "point", "shape": "M 1 -1 L -1 0 L 1 1 Z", "filled": true, "opacity": 1, "size": 70, "color": "#f0a040"},
 "encoding": {"x": {"field": "f", "type": "quantitative", "scale": {"domain": [-10, 201], "nice": false, "zero": false}, "axis": null},
  "y": {"field": "a", "type": "quantitative", "scale": {"domain": [-154, 230], "nice": false, "zero": false}, "axis": null}}},
{"data": {"values": [{"f": 127, "a": -11}]},
 "mark": {"type": "point", "shape": "M -1 -1 L 1 0 L -1 1 Z", "filled": true, "opacity": 1, "size": 70, "color": "#f0a040"},
 "encoding": {"x": {"field": "f", "type": "quantitative", "scale": {"domain": [-10, 201], "nice": false, "zero": false}, "axis": null},
  "y": {"field": "a", "type": "quantitative", "scale": {"domain": [-154, 230], "nice": false, "zero": false}, "axis": null}}},
{"data": {"values": [{"label": "FWI Vp", "f": 21, "a": 94}]},
 "mark": {"type": "text", "align": "left", "baseline": "alphabetic", "fontSize": 17, "fontWeight": "bold", "color": "#3a46a6"},
 "encoding": {"x": {"field": "f", "type": "quantitative", "scale": {"domain": [-10, 201], "nice": false, "zero": false}, "axis": null},
  "y": {"field": "a", "type": "quantitative", "scale": {"domain": [-154, 230], "nice": false, "zero": false}, "axis": null}, "text": {"field": "label"}}},
{"data": {"values": [{"label": "FWI image", "f": 116, "a": 92}]},
 "mark": {"type": "text", "align": "left", "baseline": "alphabetic", "fontSize": 17, "fontWeight": "bold", "color": "#e0401f"},
 "encoding": {"x": {"field": "f", "type": "quantitative", "scale": {"domain": [-10, 201], "nice": false, "zero": false}, "axis": null},
  "y": {"field": "a", "type": "quantitative", "scale": {"domain": [-154, 230], "nice": false, "zero": false}, "axis": null}, "text": {"field": "label"}}},
{"data": {"values": [{"label": "Freq", "f": 166, "a": -20}]},
 "mark": {"type": "text", "align": "left", "baseline": "alphabetic", "fontSize": 17, "color": "black"},
 "encoding": {"x": {"field": "f", "type": "quantitative", "scale": {"domain": [-10, 201], "nice": false, "zero": false}, "axis": null},
  "y": {"field": "a", "type": "quantitative", "scale": {"domain": [-154, 230], "nice": false, "zero": false}, "axis": null}, "text": {"field": "label"}}},
{"data": {"values": [{"label": "Frequency overlap", "f": 11, "a": -36}]},
 "mark": {"type": "text", "align": "left", "baseline": "alphabetic", "fontSize": 16, "color": "#f0a040"},
 "encoding": {"x": {"field": "f", "type": "quantitative", "scale": {"domain": [-10, 201], "nice": false, "zero": false}, "axis": null},
  "y": {"field": "a", "type": "quantitative", "scale": {"domain": [-154, 230], "nice": false, "zero": false}, "axis": null}, "text": {"field": "label"}}}
]
}
]
}
